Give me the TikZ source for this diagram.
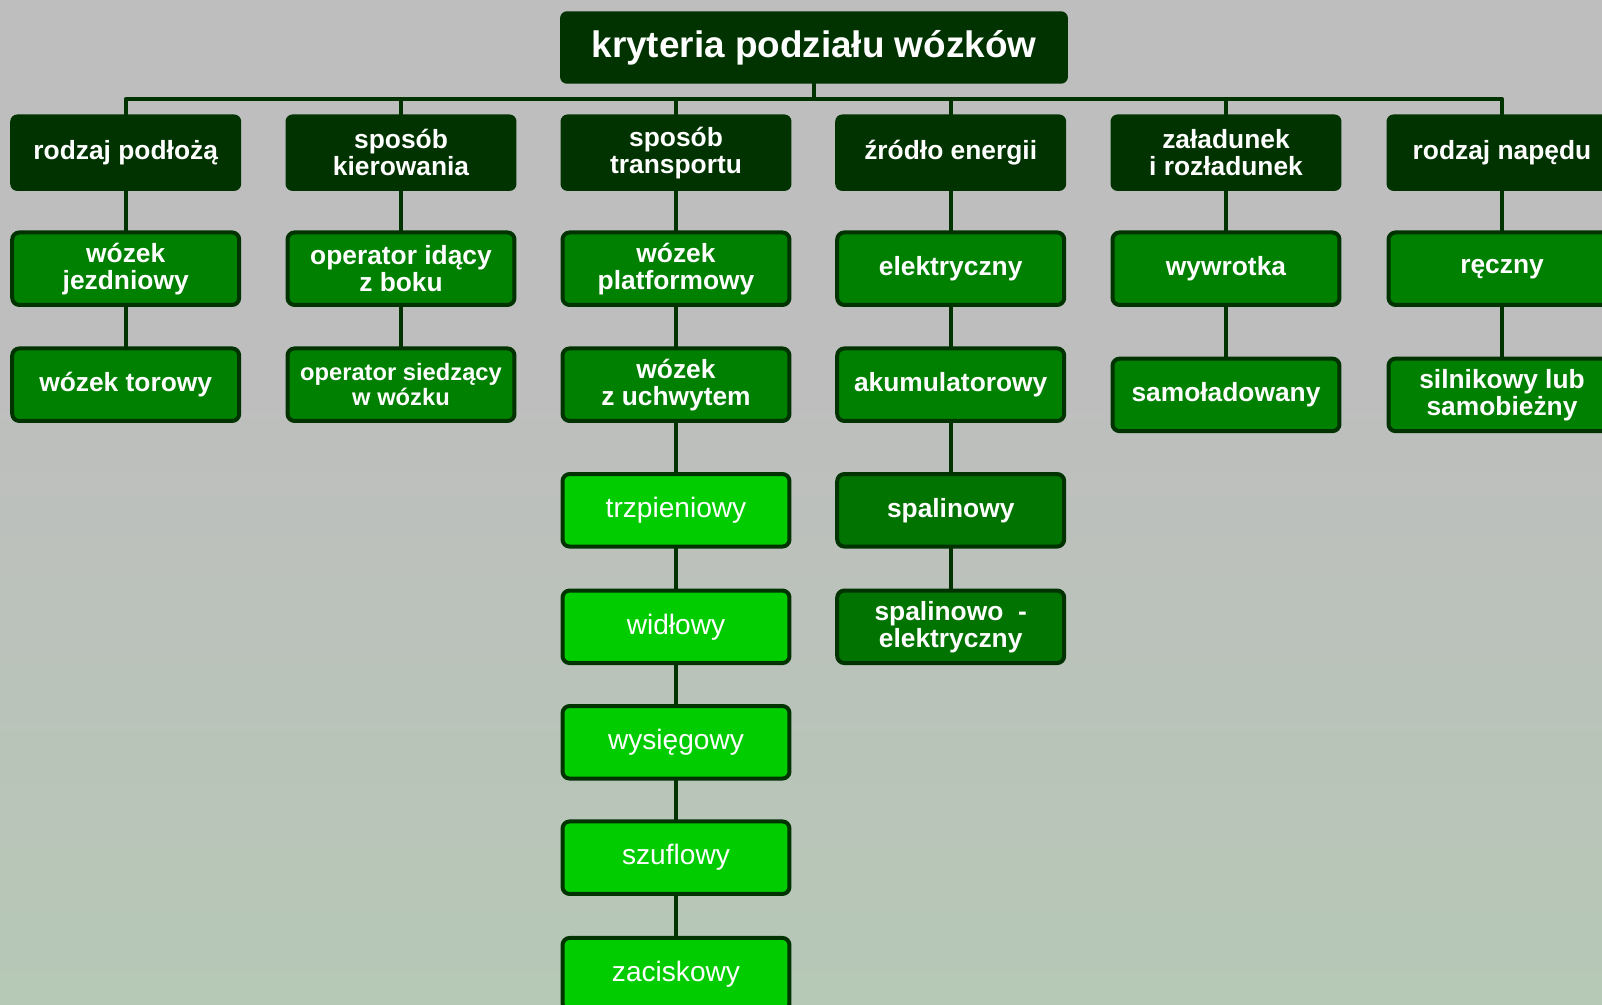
\documentclass[tikz,border=0pt]{standalone}
\usepackage{fontspec}
\setmainfont{Liberation Sans}
\usepackage{tikz}
\usetikzlibrary{positioning}
\definecolor{ciemny}{HTML}{003300}
\definecolor{zielony}{HTML}{008000}
\definecolor{sredni}{HTML}{007300}
\definecolor{jasny}{HTML}{00CC00}
\definecolor{tlo}{HTML}{BEBEBE}
\definecolor{plytka}{HTML}{B6C8B6}

\begin{document}
\begin{tikzpicture}[x=0.02cm,y=-0.02cm,line cap=round,line join=round,
    kat/.style={rectangle,rounded corners=4pt,fill=ciemny,text=white,align=center,inner sep=0pt,
      minimum width=4.62cm,minimum height=1.53cm,font=\bfseries\fontsize{15}{15.5}\selectfont},
    typ/.style={kat,fill=zielony,draw=ciemny,line width=0.08cm,minimum width=4.54cm,minimum height=1.45cm},
    sposob/.style={typ,fill=jasny,font=\fontsize{16}{17}\selectfont},
    spal/.style={typ,fill=sredni},
    polacz/.style={draw=ciemny,line width=0.08cm}]
      \clip (0,0) rectangle (1602,1004);
      \fill[tlo] (0,0) rectangle (1602,1004);
      \shade[top color=tlo,bottom color=plytka] (0,380) rectangle (1602,1004);
      % tytul
      \node[kat,minimum width=10.16cm,minimum height=1.45cm,font=\bfseries\fontsize{21}{24}\selectfont] (tytul) at (814,47.5) {kryteria podziału wózków};
      \coordinate (szyna) at (814,99);
      % kryteria
      \node[kat] (k1) at (125.7,152.7) {rodzaj podłożą};
      \node[kat] (k2) at (401,152.7) {sposób\\kierowania};
      \node[kat] (k3) at (676,152.7) {sposób\\transportu};
      \node[kat] (k4) at (950.7,152.7) {źródło energii};
      \node[kat] (k5) at (1226,152.7) {załadunek\\i rozładunek};
      \node[kat] (k6) at (1502,152.7) {rodzaj napędu};
      % rodzaje
      \node[typ] (p1) at (125.7,268.7) {wózek\\jezdniowy};
      \node[typ] (p1b) at (125.7,384.7) {wózek torowy};
      \node[typ] (p2) at (401,268.7) {operator idący\\z boku};
      \node[typ,font=\bfseries\fontsize{13.5}{14}\selectfont] (p2b) at (401,384.7) {operator siedzący\\w wózku};
      \node[typ] (p3) at (676,268.7) {wózek\\platformowy};
      \node[typ] (p3b) at (676,384.7) {wózek\\z uchwytem};
      \node[sposob] (t1) at (676,510.3) {trzpieniowy};
      \node[sposob] (t2) at (676,626.8) {widłowy};
      \node[sposob] (t3) at (676,742.3) {wysięgowy};
      \node[sposob] (t4) at (676,857.7) {szuflowy};
      \node[sposob] (t5) at (676,974.2) {zaciskowy};
      \node[typ] (e1) at (950.7,268.7) {elektryczny};
      \node[typ] (e2) at (950.7,384.7) {akumulatorowy};
      \node[spal] (e3) at (950.7,510.3) {spalinowy};
      \node[spal] (e4) at (950.7,626.8) {spalinowo\ \ -\\elektryczny};
      \node[typ] (z1) at (1226,268.7) {wywrotka};
      \node[typ] (z2) at (1226,394.9) {samoładowany};
      \node[typ] (n1) at (1502,268.7) {ręczny};
      \node[typ] (n2) at (1502,394.9) {silnikowy lub\\samobieżny};
      % polaczenia
      \draw[polacz] (tytul) -- (szyna);
      \draw[polacz] (k1.north) |- (szyna) -| (k6.north);
      \foreach \k in {k2,k3,k4,k5}
      \draw[polacz] (\k.north) -- (\k.north |- szyna);
      \draw[polacz] (k1) -- (p1) -- (p1b);
      \draw[polacz] (k2) -- (p2) -- (p2b);
      \draw[polacz] (k3) -- (p3) -- (p3b) -- (t1) -- (t2) -- (t3) -- (t4) -- (t5);
      \draw[polacz] (k4) -- (e1) -- (e2) -- (e3) -- (e4);
      \draw[polacz] (k5) -- (z1) -- (z2);
      \draw[polacz] (k6) -- (n1) -- (n2);
\end{tikzpicture}
\end{document}
